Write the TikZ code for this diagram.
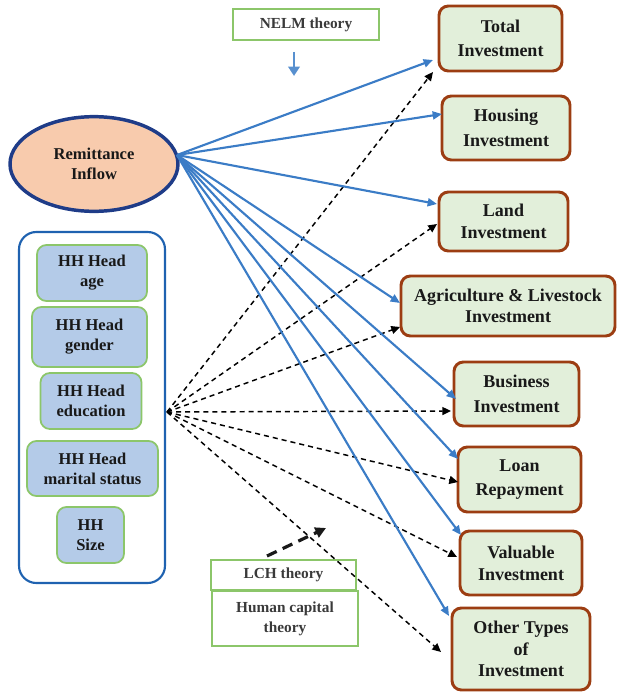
\documentclass[tikz,border=0pt]{standalone}
\usepackage{fontspec}
\setmainfont{Liberation Serif}
\usetikzlibrary{arrows.meta,shapes.geometric}
\definecolor{bluearr}{HTML}{3B7CC6}
\definecolor{navy}{HTML}{1F3C88}
\definecolor{peach}{HTML}{F8CBAD}
\definecolor{outerblue}{HTML}{1F62B0}
\definecolor{innerfill}{HTML}{B4CBE8}
\definecolor{greenline}{HTML}{8CC66A}
\definecolor{boxfill}{HTML}{E2EFDA}
\definecolor{brownline}{HTML}{9C3D12}
\definecolor{graytext}{HTML}{3A3A3A}
\tikzset{
  invbox/.style={draw=brownline, line width=2.2pt, fill=boxfill, rounded corners=7pt,
    align=center, inner sep=0pt, font=\bfseries\fontsize{13.5}{16}\selectfont, text=black!90},
  hhbox/.style={draw=greenline, line width=1.3pt, fill=innerfill, rounded corners=7pt,
    align=center, inner sep=0pt, font=\bfseries\fontsize{12.4}{15}\selectfont, text=black!90},
  theorybox/.style={draw=greenline, line width=1.2pt, fill=white,
    align=center, inner sep=0pt, font=\bfseries\fontsize{11.5}{15}\selectfont, text=graytext},
  bluearrow/.style={draw=bluearr, line width=1.6pt, -{Triangle[length=7pt,width=6pt]}},
  dasharrow/.style={draw=black, line width=1.1pt, dash pattern=on 3.8pt off 3pt,
    -{Triangle[length=6.5pt,width=6pt]}},
}
\begin{document}
\begin{tikzpicture}[x=0.75pt,y=-0.75pt]
\useasboundingbox (0,0) rectangle (618,692);

% theory boxes
\node[theorybox, minimum width=109.5pt, minimum height=23.25pt] (nelm) at (306,24.5) {NELM theory};
\node[theorybox, minimum width=108.75pt, minimum height=22.5pt] (lch) at (283.5,575) {LCH theory};
\node[theorybox, minimum width=109.5pt, minimum height=41.25pt] (hct) at (285,618.5) {Human capital\\theory};

% NELM down arrow
\coordinate (nelmA) at (294,52);
\coordinate (nelmB) at (294,76);
\draw[draw=bluearr!85, line width=2.2pt, -{Triangle[length=7pt,width=8.5pt]}] (nelmA) -- (nelmB);

% remittance ellipse
\node[ellipse, draw=navy, line width=2.6pt, fill=peach, minimum width=126pt, minimum height=71pt,
  inner sep=0pt, align=center, font=\bfseries\fontsize{12.4}{15}\selectfont, text=black!90] (rem) at (94,164) {Remittance\\Inflow};

% HH outer box
\node[draw=outerblue, line width=1.6pt, rounded corners=13pt, minimum width=109.5pt, minimum height=263.25pt, inner sep=0pt] (hh) at (92,407.5) {};
\node[hhbox, minimum width=82.5pt, minimum height=42pt] (age) at (92,273) {HH Head\\age};
\node[hhbox, minimum width=86.25pt, minimum height=45pt] (gen) at (89.5,337) {HH Head\\gender};
\node[hhbox, minimum width=75.75pt, minimum height=42pt] (edu) at (91,401) {HH Head\\education};
\node[hhbox, minimum width=98.25pt, minimum height=41.25pt] (mar) at (92.5,468.5) {HH Head\\marital status};
\node[hhbox, minimum width=50.25pt, minimum height=42pt] (siz) at (90.5,535) {HH\\Size};

% investment boxes
\node[invbox, minimum width=92.25pt, minimum height=48.75pt] (tot) at (500.5,38.5) {Total\\[2.5pt]Investment};
\node[invbox, minimum width=96pt, minimum height=48pt] (hou) at (506,128) {Housing\\[2.5pt]Investment};
\node[invbox, minimum width=96.75pt, minimum height=44.25pt] (lan) at (503.5,221.5) {Land\\[0.5pt]Investment};
\node[invbox, minimum width=160.5pt, minimum height=45pt] (agr) at (508,306) {Agriculture \& Livestock\\Investment};
\node[invbox, minimum width=93.75pt, minimum height=48pt] (bus) at (516.5,394) {Business\\[2.5pt]Investment};
\node[invbox, minimum width=92.25pt, minimum height=48.75pt] (loa) at (519.5,479.5) {Loan\\[2.5pt]Repayment};
\node[invbox, minimum width=91.5pt, minimum height=48pt] (val) at (521,563) {Valuable\\[0.5pt]Investment};
\node[invbox, minimum width=103.5pt, minimum height=61.5pt] (oth) at (521,649) {Other Types\\of\\Investment};

% sources and arrow tip points
\coordinate (rsrc) at (177,155);
\coordinate (hsrc) at (167,412);
\coordinate (bT) at (433,60);
\coordinate (bH) at (442,114);
\coordinate (bL) at (437,204);
\coordinate (bA) at (400,303);
\coordinate (bB) at (456,399);
\coordinate (bLo) at (458,459);
\coordinate (bV) at (461,535);
\coordinate (bO) at (449,616);
\coordinate (dT) at (433,72);
\coordinate (dL) at (437,224);
\coordinate (dA) at (400,327);
\coordinate (dB) at (451,411);
\coordinate (dLo) at (458,482);
\coordinate (dV) at (457,557);
\coordinate (dO) at (441,652);

% dashed arrows from HH characteristics
\foreach \t in {dT,dL,dA,dB,dLo,dV,dO}
  \draw[dasharrow] (hsrc) -- (\t);

% blue arrows from remittance
\foreach \t in {bT,bH,bL,bA,bB,bLo,bV,bO}
  \draw[bluearrow] (rsrc) -- (\t);

% LCH arrow
\coordinate (lchA) at (267,556);
\coordinate (lchB) at (326,528);
\draw[draw=black!90, line width=2.4pt, dash pattern=on 8pt off 5pt, -{Triangle[length=8pt,width=8pt]}] (lchA) -- (lchB);

\end{tikzpicture}
\end{document}
